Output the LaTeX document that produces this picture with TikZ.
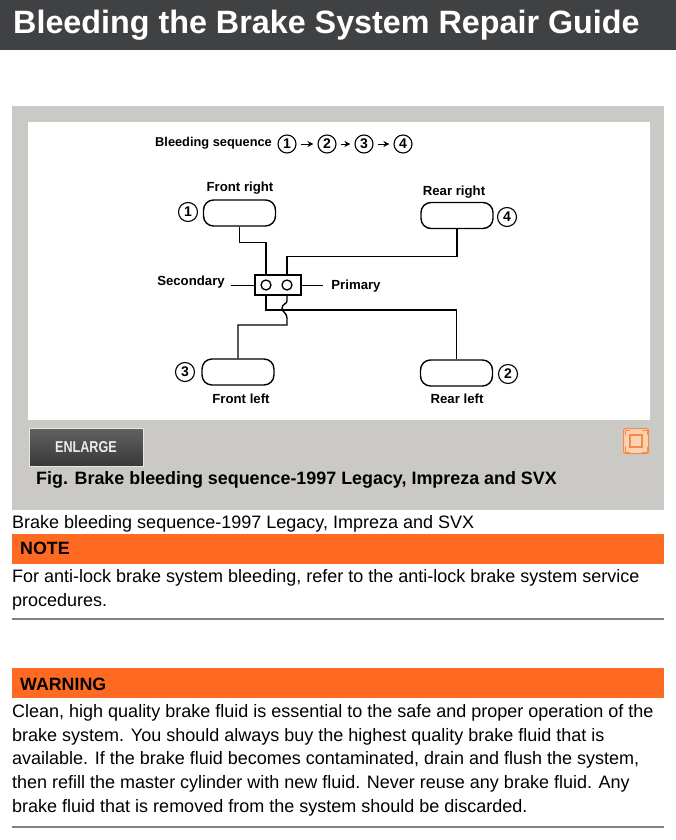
\documentclass[tikz,border=0pt]{standalone}
\usepackage{fontspec}
\setmainfont{Liberation Sans}
\usepackage{xcolor}
\usetikzlibrary{positioning,arrows.meta}
\definecolor{panelgray}{HTML}{CBC9C6}
\definecolor{bargray}{HTML}{404143}
\definecolor{notebar}{HTML}{FF6A22}
\definecolor{iconline}{HTML}{F58A45}
\definecolor{iconfill}{HTML}{FBD3B4}
\tikzset{
  wheel/.style={draw,line width=1.4pt,rounded corners=10pt,minimum width=72pt,minimum height=26pt,inner sep=0pt},
  seqnum/.style={draw,circle,line width=1.1pt,minimum size=18pt,inner sep=0pt,font=\bfseries\fontsize{14}{14}\selectfont},
  wheelnum/.style={seqnum,minimum size=19pt},
  partlabel/.style={font=\bfseries\fontsize{13.2}{14}\selectfont,inner sep=0pt},
  pipe/.style={line width=1.4pt},
  seqarrow/.style={->,line width=1pt,shorten <=4pt,shorten >=4pt},
  bodytext/.style={anchor=north west,inner sep=0pt,align=left,font=\fontsize{18}{23.8}\selectfont},
  barlabel/.style={anchor=west,inner sep=0pt,font=\bfseries\fontsize{17.8}{20}\selectfont},
}
\begin{document}
\begin{tikzpicture}[x=1pt,y=-1pt,>={Stealth[length=6pt,width=6pt]}]
\useasboundingbox (0,0) rectangle (676,840);
\fill[white] (0,0) rectangle (676,840);
% title
\fill[bargray] (0,0) rectangle (676,50);
\node[anchor=west,inner sep=0pt,text=white,font=\bfseries\fontsize{32.3}{34}\selectfont] (title) at (13,25) {Bleeding the Brake System Repair Guide};
% figure panel
\fill[panelgray] (12,106) rectangle (664,510);
\fill[white] (28,122) rectangle (650,420);
\node[partlabel,anchor=west,font=\bfseries\fontsize{12.8}{14}\selectfont] (seqlabel) at (155,143) {Bleeding sequence};
\node[seqnum] (s1) at (287,144) {1};
\node[seqnum] (s2) at (327,144) {2};
\node[seqnum] (s3) at (364,144) {3};
\node[seqnum] (s4) at (403,144) {4};
\draw[seqarrow] (s1) -- (s2);
\draw[seqarrow] (s2) -- (s3);
\draw[seqarrow] (s3) -- (s4);
% wheels
\node[wheel] (fr) at (239.5,213) {};
\node[wheel] (rr) at (457,215.5) {};
\node[wheel] (fl) at (238,372) {};
\node[wheel] (rl) at (456.5,373) {};
\node[partlabel] (frlabel) at (240,188) {Front right};
\node[partlabel] (rrlabel) at (454,192) {Rear right};
\node[partlabel] (fllabel) at (241,399) {Front left};
\node[partlabel] (rllabel) at (457,399) {Rear left};
\node[wheelnum] (n1) at (188,212) {1};
\node[wheelnum] (n4) at (507,217) {4};
\node[wheelnum] (n3) at (185,372) {3};
\node[wheelnum] (n2) at (508,374) {2};
% master cylinder
\node[draw,line width=1.4pt,minimum width=46pt,minimum height=20pt,inner sep=0pt] (block) at (278,285) {};
\node[draw,circle,line width=1.3pt,minimum size=10pt,inner sep=0pt] (sec) at (266,285) {};
\node[draw,circle,line width=1.3pt,minimum size=10pt,inner sep=0pt] (pri) at (287,285) {};
\node[partlabel] (seclabel) at (191,282) {Secondary};
\node[partlabel] (prilabel) at (356,286) {Primary};
\coordinate (secondaryend) at (231,285);
\coordinate (primaryend) at (323,285);
\draw[line width=1pt] (secondaryend) -- (block.west);
\draw[line width=1pt] (block.east) -- (primaryend);
% lines
\draw[pipe] (fr.south) -- ++(0,16) -| (sec |- block.north);
\draw[pipe] (rr.south) -- ++(0,27) -| (pri |- block.north);
\draw[pipe] (sec |- block.south) -- (266,310) -| (rl.north);
\draw[pipe] (pri |- block.south) -- (287,301) .. controls (287,304) and (282,304) .. (282,308) .. controls (282,312) and (287,313) .. (287,318) -- (287,325) -| (fl.north);
% button and icon
\node[draw=white!80!gray,line width=.8pt,top color=black!62,bottom color=black!78,minimum width=114pt,minimum height=38pt,inner sep=0pt,text=white!85!gray,font=\bfseries\fontsize{15}{16}\selectfont] (enlarge) at (86,447.5) {\scalebox{.84}[1.05]{ENLARGE}};
\node[draw=iconline,fill=iconfill,rounded corners=2pt,line width=1pt,minimum size=25pt,inner sep=0pt] (icon) at (636,441) {};
\node[draw=iconline,line width=1.2pt,minimum size=12pt,inner sep=0pt] (iconbox) at (icon.center) {};
\draw[iconline,line width=.8pt] (625,435) |- (630,430) (642,430) -| (647,435) (647,447) |- (642,452) (630,452) -| (625,447);
\node[anchor=west,inner sep=0pt,font=\bfseries\fontsize{17.9}{20}\selectfont] (figcap) at (36,480) {Fig. Brake bleeding sequence-1997 Legacy, Impreza and SVX};
\node[bodytext] (caption) at (12,515) {Brake bleeding sequence-1997 Legacy, Impreza and SVX};
% note
\fill[notebar] (12,534) rectangle (664,564);
\node[barlabel] (note) at (20,548) {NOTE};
\node[bodytext] (notetext) at (12,569) {For anti-lock brake system bleeding, refer to the anti-lock brake system service\\procedures.};
\draw[gray,line width=1.5pt] (12,619) -- (664,619);
% warning
\fill[notebar] (12,668) rectangle (664,698);
\node[barlabel] (warning) at (20,684) {WARNING};
\node[bodytext] (warningtext) at (12,704) {Clean, high quality brake fluid is essential to the safe and proper operation of the\\brake system. You should always buy the highest quality brake fluid that is\\available. If the brake fluid becomes contaminated, drain and flush the system,\\then refill the master cylinder with new fluid. Never reuse any brake fluid. Any\\brake fluid that is removed from the system should be discarded.};
\draw[gray,line width=1.5pt] (12,827) -- (664,827);
\end{tikzpicture}
\end{document}
